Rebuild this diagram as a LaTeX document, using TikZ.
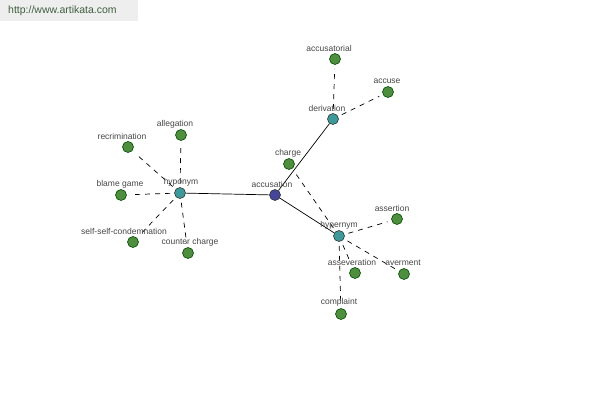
\documentclass[tikz,border=0pt]{standalone}
\usepackage{fontspec}
\setmainfont{Liberation Sans}
\begin{document}
\begin{tikzpicture}[x=1pt,y=-1pt,
  leaf/.style={circle,draw=black!70!green,line width=0.6pt,fill=leafgreen,minimum size=11pt,inner sep=0pt},
  hub/.style={circle,draw=black!80,line width=0.6pt,fill=hubteal,minimum size=11pt,inner sep=0pt},
  root/.style={circle,draw=black!80,line width=0.6pt,fill=rootblue,minimum size=11pt,inner sep=0pt},
  lbl/.style={font=\fontsize{8.5}{9}\selectfont,text=black!72,inner sep=0pt},
  solidedge/.style={draw=black,line width=0.7pt},
  dashedge/.style={draw=black,line width=0.7pt,dash pattern=on 5pt off 5pt,shorten <=4pt,shorten >=4pt}]
\definecolor{leafgreen}{HTML}{4E8E3E}
\definecolor{hubteal}{HTML}{3E9A9A}
\definecolor{rootblue}{HTML}{45459A}
\definecolor{wmgray}{HTML}{EEEEEE}
\definecolor{wmtext}{HTML}{3F5F3F}
\useasboundingbox (0,0) rectangle (600,400);
\fill[white] (0,0) rectangle (600,400);
\fill[wmgray] (0,0) rectangle (138,21);
\node[anchor=west,font=\fontsize{10.5}{11}\selectfont,text=wmtext,inner sep=0pt] (wm) at (8,11) {http://www.artikata.com};
% nodes
\node[root] (acc) at (275,195) {};
\node[hub] (hypo) at (180,193) {};
\node[hub] (deriv) at (333,119) {};
\node[hub] (hyper) at (339,236) {};
\node[leaf] (charge) at (289,164) {};
\node[leaf] (accusatorial) at (335,59) {};
\node[leaf] (accuse) at (388,92) {};
\node[leaf] (alleg) at (181,135) {};
\node[leaf] (recrim) at (128,147) {};
\node[leaf] (blame) at (121,195) {};
\node[leaf] (selfc) at (133,242) {};
\node[leaf] (counter) at (188,253) {};
\node[leaf] (assertion) at (397,219) {};
\node[leaf] (assev) at (355,273) {};
\node[leaf] (averm) at (404,274) {};
\node[leaf] (complaint) at (341,314) {};
% edges
\draw[solidedge] (acc) -- (hypo);
\draw[solidedge] (acc) -- (deriv);
\draw[solidedge] (acc) -- (hyper);
\draw[dashedge] (hypo) -- (alleg);
\draw[dashedge] (hypo) -- (recrim);
\draw[dashedge] (hypo) -- (blame);
\draw[dashedge] (hypo) -- (selfc);
\draw[dashedge] (hypo) -- (counter);
\draw[dashedge] (deriv) -- (accusatorial);
\draw[dashedge] (deriv) -- (accuse);
\draw[dashedge] (hyper) -- (charge);
\draw[dashedge] (hyper) -- (assertion);
\draw[dashedge] (hyper) -- (assev);
\draw[dashedge] (hyper) -- (averm);
\draw[dashedge] (hyper) -- (complaint);
% labels
\node[lbl] (l-acc) at (272,184) {accusation};
\node[lbl] (l-hypo) at (181,182) {hyponym};
\node[lbl] (l-deriv) at (327,108) {derivation};
\node[lbl] (l-hyper) at (339,225) {hypernym};
\node[lbl] (l-charge) at (288,153) {charge};
\node[lbl] (l-accusatorial) at (329,48) {accusatorial};
\node[lbl] (l-accuse) at (387,81) {accuse};
\node[lbl] (l-alleg) at (175,124) {allegation};
\node[lbl] (l-recrim) at (122,136) {recrimination};
\node[lbl] (l-blame) at (120,184) {blame game};
\node[lbl] (l-selfc) at (124,231) {self-self-condemnation};
\node[lbl] (l-counter) at (190,242) {counter charge};
\node[lbl] (l-assertion) at (392,208) {assertion};
\node[lbl] (l-assev) at (352,262) {asseveration};
\node[lbl] (l-averm) at (403,263) {averment};
\node[lbl] (l-complaint) at (339,302) {complaint};
\end{tikzpicture}
\end{document}
